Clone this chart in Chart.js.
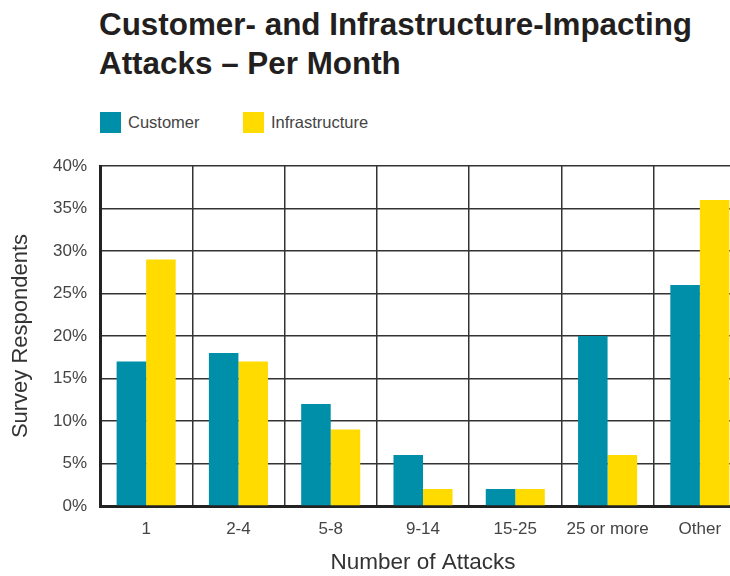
<!DOCTYPE html>
<html lang="en">
<head>
    <meta charset="utf-8">
    <title>Customer- and Infrastructure-Impacting Attacks</title>
    <script src="https://cdn.jsdelivr.net/npm/chart.js"></script>
    <style>
        html, body { margin: 0; padding: 0; background: #fff; overflow: hidden; }
        #quadro { position: relative; width: 730px; height: 576px; overflow: hidden; }
        .titulo {
            position: absolute; left: 99px; top: 5px; margin: 0;
            font-family: "Liberation Sans", Arial, sans-serif; font-weight: bold;
            font-size: 31.4px; line-height: 39px; color: #231f20;
        }
        #legenda { position: absolute; left: 100px; top: 112px; font-family: "Liberation Sans", Arial, sans-serif; font-size: 16.5px; color: #444; }
        .item { position: absolute; top: 0; white-space: nowrap; }
        .item span.caixa { display: inline-block; width: 21px; height: 21px; vertical-align: top; }
        .item span.rotulo { position: absolute; left: 28px; top: 1px; }
        #caixaGrafico { position: absolute; left: 0; top: 140px; }
    </style>
</head>
<body>
    <div id="quadro">
        <h1 class="titulo">Customer- and Infrastructure-Impacting<br>Attacks – Per Month</h1>
        <div id="legenda"></div>
        <div id="caixaGrafico"><canvas id="grafico" width="760" height="436"></canvas></div>
    </div>

    <script>
        const categorias = ["1", "2-4", "5-8", "9-14", "15-25", "25 or more", "Other"];
        const series = ["Customer", "Infrastructure"];
        const customer = [17, 18, 12, 6, 2, 20, 26];
        const infraestrutura = [29, 17, 9, 2, 2, 6, 36];
        const cores = ["#008fa8", "#ffdb00"];
        const ticksY = [0, 5, 10, 15, 20, 25, 30, 35, 40];

        // legenda em HTML, posições dos itens
        const posLegenda = [0, 143];
        const legenda = document.getElementById("legenda");
        series.forEach((nome, i) => {
            let item = document.createElement("div");
            item.className = "item";
            item.style.left = posLegenda[i] + "px";
            item.innerHTML = '<span class="caixa" style="background:' + cores[i] + '"></span><span class="rotulo">' + nome + '</span>';
            legenda.appendChild(item);
        });

        const fonteBase = "'Liberation Sans', Arial, sans-serif";

        new Chart(document.getElementById("grafico"), {
            type: "bar",
            data: {
                labels: categorias,
                datasets: [
                    { label: series[0], data: customer, backgroundColor: cores[0] },
                    { label: series[1], data: infraestrutura, backgroundColor: cores[1] }
                ]
            },
            options: {
                responsive: false,
                animation: false,
                categoryPercentage: 0.64,
                barPercentage: 1,
                layout: { padding: { top: 26, right: 14, left: 0, bottom: 0 } },
                plugins: {
                    legend: { display: false },
                    tooltip: { enabled: false }
                },
                scales: {
                    x: {
                        afterFit: (s) => { s.height = 70; },
                        grid: { color: "#333", lineWidth: 1.5, drawTicks: false },
                        border: { display: true, color: "#222", width: 3 },
                        ticks: { color: "#444", font: { family: fonteBase, size: 17 }, padding: 13 },
                        title: { display: true, text: "Number of Attacks", color: "#333", font: { family: fonteBase, size: 22.5 }, padding: { top: 0, bottom: 0 } }
                    },
                    y: {
                        min: 0,
                        max: 40,
                        afterFit: (s) => { s.width = 100; },
                        afterBuildTicks: (s) => { s.ticks = ticksY.map(v => ({ value: v })); },
                        grid: { color: "#333", lineWidth: 1.5, drawTicks: false },
                        border: { display: true, color: "#222", width: 3 },
                        ticks: { color: "#444", font: { family: fonteBase, size: 17 }, padding: 13, callback: (v) => v + "%" },
                        title: { display: true, text: "Survey Respondents", color: "#333", font: { family: fonteBase, size: 22 }, padding: { top: 8, bottom: 0 } }
                    }
                }
            }
        });
    </script>
</body>
</html>
